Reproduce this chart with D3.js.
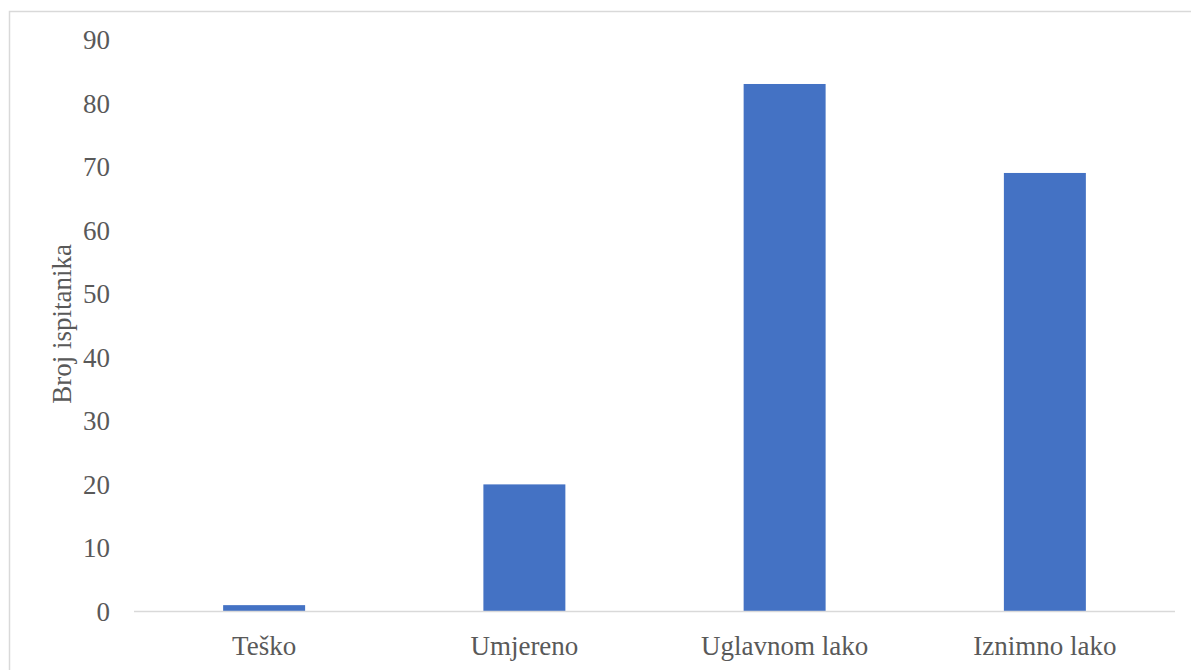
<!DOCTYPE html>
<html><head><meta charset="utf-8">
<script src="https://cdn.jsdelivr.net/npm/d3@7"></script>
<style>body{margin:0;background:#fff}svg{display:block}</style>
</head><body>
<svg id="c" width="1191" height="670"></svg>
<script>
const categories = ["Teško", "Umjereno", "Uglavnom lako", "Iznimno lako"];
const values = [1, 20, 83, 69];
const yTicks = [0, 10, 20, 30, 40, 50, 60, 70, 80, 90];
const yTitle = "Broj ispitanika";

(function () {
const svg = d3.select("#c");
const font = "'Liberation Serif', 'Times New Roman', serif";
const textColor = "#595959";
const fs = 27;

svg.append("rect").attr("x", 9.5).attr("y", 11.5).attr("width", 1190).attr("height", 670)
  .attr("fill", "#fff").attr("stroke", "#d9d9d9").attr("stroke-width", 1.5);

const pLeft = 134, pRight = 1175, pTop = 39.5, pBottom = 611.5;
const x = d3.scaleBand().domain(categories).range([pLeft, pRight]).paddingInner(0.685).paddingOuter(0.3425);
const y = d3.scaleLinear().domain([0, 90]).range([pBottom, pTop]);

svg.append("g").selectAll("rect").data(values).join("rect")
  .attr("x", (d, i) => x(categories[i]))
  .attr("width", x.bandwidth())
  .attr("y", d => y(d))
  .attr("height", d => y(0) - y(d))
  .attr("fill", "#4472c4");

svg.append("line").attr("x1", pLeft).attr("x2", pRight).attr("y1", pBottom).attr("y2", pBottom)
  .attr("stroke", "#d9d9d9").attr("stroke-width", 1.5);

svg.append("g").selectAll("text").data(yTicks).join("text")
  .attr("x", 110).attr("y", d => y(d)).attr("dy", "0.35em")
  .attr("text-anchor", "end").attr("font-family", font).attr("font-size", fs)
  .attr("fill", textColor).text(d => d);

svg.append("g").selectAll("text").data(categories).join("text")
  .attr("x", d => x(d) + x.bandwidth() / 2).attr("y", 655)
  .attr("text-anchor", "middle").attr("font-family", font).attr("font-size", fs)
  .attr("fill", textColor).text(d => d);

svg.append("text").attr("transform", `translate(71,324) rotate(-90)`)
  .attr("text-anchor", "middle").attr("font-family", font).attr("font-size", fs)
  .attr("fill", textColor).text(yTitle);
})();
</script>
</body></html>
